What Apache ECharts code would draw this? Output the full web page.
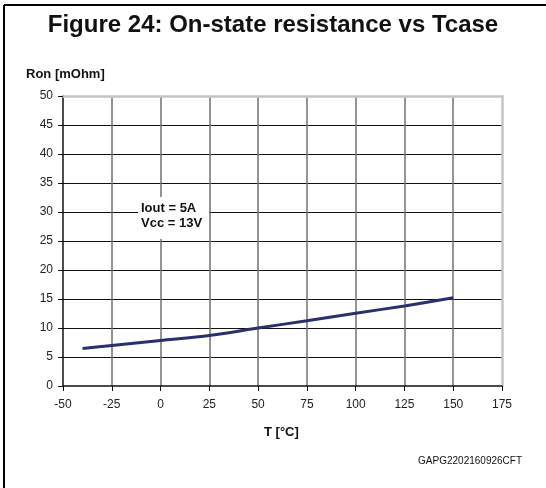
<!DOCTYPE html>
<html>
<head>
<meta charset="utf-8">
<script src="https://cdn.jsdelivr.net/npm/echarts@6/dist/echarts.min.js"></script>
<style>
  html, body { margin: 0; padding: 0; background: #fff; }
  #chart { width: 546px; height: 488px; }
</style>
</head>
<body>
<div id="chart"></div>
<script>
// temperature points (°C) and on-state resistance (mOhm)
var temps = [-40, -25, 0, 25, 50, 75, 100, 125, 150];
var ron = [6.45, 7.0, 7.85, 8.7, 10.0, 11.25, 12.55, 13.8, 15.2];
var xTicks = [-50, 175, 25];   // min, max, interval
var yTicks = [0, 50, 5];

var chart = echarts.init(document.getElementById('chart'));
var font = 'Liberation Sans, Arial, sans-serif';

var option = {
  animation: false,
  title: [
    {
      text: 'Figure 24: On-state resistance vs Tcase',
      left: 'center',
      top: 8,
      textStyle: { fontFamily: font, fontSize: 24, fontWeight: 'bold', color: '#111' }
    },
    {
      text: 'Ron [mOhm]',
      left: 21,
      top: 63,
      textStyle: { fontFamily: font, fontSize: 13, fontWeight: 'bold', color: '#111' }
    },
    {
      text: 'T [°C]',
      left: 264,
      top: 426,
      padding: 0,
      textStyle: { fontFamily: font, fontSize: 13, fontWeight: 'bold', color: '#111' }
    },
    {
      text: 'GAPG2202160926CFT',
      right: 19,
      top: 451,
      textStyle: { fontFamily: font, fontSize: 10, fontWeight: 'normal', color: '#111' }
    }
  ],
  grid: { left: 63, right: 44, top: 96, bottom: 102 },
  xAxis: [
    {
      type: 'value',
      min: xTicks[0],
      max: xTicks[1],
      interval: xTicks[2],
      axisLine: { onZero: false, lineStyle: { color: '#111', width: 1.5 } },
      axisTick: { show: true, length: 5, lineStyle: { color: '#111' } },
      axisLabel: { fontFamily: font, fontSize: 12, color: '#222', margin: 13 },
      splitLine: { show: true, showMinLine: false, showMaxLine: false, lineStyle: { color: '#707070', width: 1.5 } }
    },
    {
      type: 'value',
      position: 'top',
      min: xTicks[0],
      max: xTicks[1],
      axisLine: { show: true, onZero: false, lineStyle: { color: '#c4c4c4', width: 2.5 } },
      axisTick: { show: false },
      axisLabel: { show: false },
      splitLine: { show: false }
    }
  ],
  yAxis: [
    {
      type: 'value',
      min: yTicks[0],
      max: yTicks[1],
      interval: yTicks[2],
      axisLine: { show: true, onZero: false, lineStyle: { color: '#111', width: 1.5 } },
      axisTick: { show: true, length: 5, lineStyle: { color: '#111' } },
      axisLabel: { fontFamily: font, fontSize: 12, color: '#222', margin: 10 },
      splitLine: { show: true, showMinLine: false, showMaxLine: false, lineStyle: { color: '#111', width: 1.2 } }
    },
    {
      type: 'value',
      position: 'right',
      min: yTicks[0],
      max: yTicks[1],
      axisLine: { show: true, onZero: false, lineStyle: { color: '#c4c4c4', width: 2.5 } },
      axisTick: { show: false },
      axisLabel: { show: false },
      splitLine: { show: false }
    }
  ],
  series: [
    {
      type: 'line',
      data: temps.map(function (t, i) { return [t, ron[i]]; }),
      smooth: 0.3,
      showSymbol: false,
      lineStyle: { color: '#2b2f6e', width: 3 },
      z: 5
    }
  ],
  graphic: [
    // page frame (top and left edges)
    { type: 'line', shape: { x1: 4, y1: 5, x2: 546, y2: 5 }, style: { stroke: '#000', lineWidth: 2 } },
    { type: 'line', shape: { x1: 4, y1: 5, x2: 4, y2: 488 }, style: { stroke: '#000', lineWidth: 2 } },
    // condition label
    { type: 'rect', shape: { x: 138, y: 197, width: 71, height: 42 }, style: { fill: '#fff' }, z: 10 },
    {
      type: 'text', left: 141, top: 201, z: 11,
      style: {
        text: 'Iout = 5A\nVcc = 13V',
        font: 'bold 13px ' + font,
        lineHeight: 15,
        fill: '#111'
      }
    }
  ]
};

chart.setOption(option);
</script>
</body>
</html>
